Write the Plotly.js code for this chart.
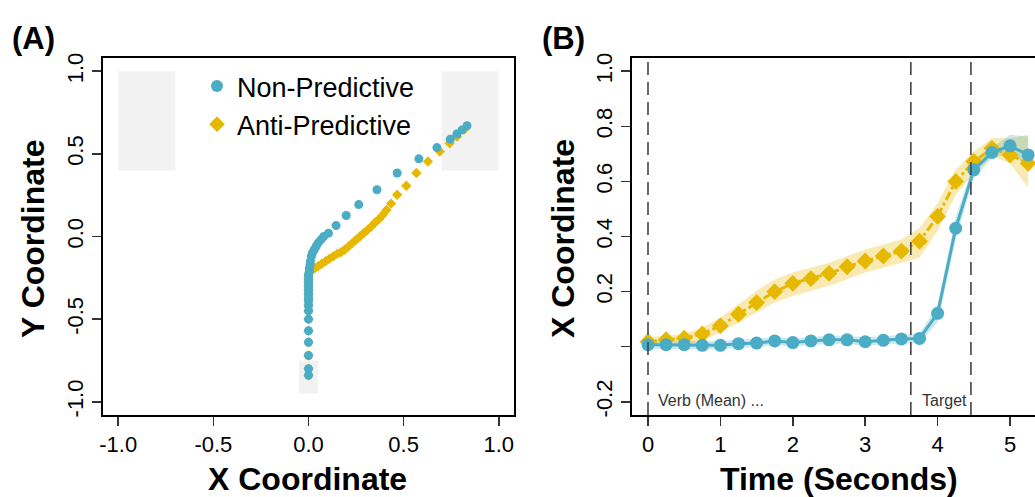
<!DOCTYPE html>
<html>
<head>
<meta charset="utf-8">
<script src="https://cdn.plot.ly/plotly-3.0.1.min.js"></script>
<style>html,body{margin:0;padding:0;background:#fff;}#chart{width:1035px;height:497px;}</style>
</head>
<body>
<div id="chart"></div>
<script>
// ---------- Panel A: mean trajectories (x, y) ----------
const nonPredX = [0.000,0.000,0.000,0.000,0.000,0.000,0.000,0.000,0.000,0.000,0.000,0.000,0.000,0.000,0.000,0.000,0.000,0.005,0.005,0.008,0.010,0.015,0.020,0.030,0.040,0.050,0.065,0.080,0.105,0.145,0.198,0.264,0.360,0.466,0.580,0.675,0.745,0.780,0.807,0.833];
const nonPredY = [-0.84,-0.80,-0.72,-0.64,-0.57,-0.50,-0.45,-0.42,-0.39,-0.37,-0.35,-0.33,-0.31,-0.29,-0.27,-0.25,-0.23,-0.21,-0.19,-0.17,-0.15,-0.12,-0.10,-0.08,-0.06,-0.04,-0.02,0.00,0.02,0.066,0.127,0.193,0.283,0.384,0.470,0.538,0.589,0.620,0.645,0.670];
const antiPredX = [0.000,0.000,0.000,0.000,0.000,0.000,0.000,0.000,0.000,0.000,0.000,0.000,0.000,0.000,0.000,0.005,0.010,0.020,0.035,0.050,0.070,0.090,0.110,0.130,0.150,0.170,0.190,0.210,0.230,0.250,0.270,0.290,0.310,0.330,0.350,0.370,0.390,0.410,0.434,0.466,0.514,0.567,0.628,0.690,0.742,0.780,0.820];
const antiPredY = [-0.84,-0.80,-0.72,-0.64,-0.57,-0.50,-0.45,-0.41,-0.38,-0.35,-0.32,-0.30,-0.28,-0.26,-0.24,-0.22,-0.21,-0.20,-0.19,-0.18,-0.165,-0.15,-0.135,-0.12,-0.105,-0.095,-0.08,-0.06,-0.04,-0.02,0.00,0.02,0.04,0.06,0.085,0.105,0.13,0.16,0.199,0.253,0.307,0.384,0.454,0.514,0.564,0.604,0.649];
const axisTicksA = [-1, -0.5, 0, 0.5, 1];
const axisTickTextA = ['-1.0', '-0.5', '0.0', '0.5', '1.0'];
// response boxes [x0, x1, y0, y1]
const boxX0 = [-1.0, 0.7, -0.05];
const boxX1 = [-0.7, 1.0, 0.05];
const boxY0 = [0.4, 0.4, -0.95];
const boxY1 = [1.0, 1.0, -0.75];

// ---------- Panel B: X coordinate over time ----------
const timeSec = [0,0.25,0.5,0.75,1,1.25,1.5,1.75,2,2.25,2.5,2.75,3,3.25,3.5,3.75,4,4.25,4.5,4.75,5,5.25];
const nonPredMean = [0.007,0.007,0.007,0.005,0.005,0.011,0.013,0.021,0.015,0.021,0.025,0.025,0.018,0.023,0.028,0.030,0.121,0.430,0.642,0.705,0.729,0.696];
const nonPredUpper = [0.022,0.022,0.022,0.020,0.020,0.026,0.028,0.036,0.030,0.036,0.040,0.040,0.034,0.038,0.044,0.048,0.150,0.470,0.666,0.722,0.769,0.763];
const nonPredLower = [-0.008,-0.008,-0.008,-0.010,-0.010,-0.004,-0.002,0.006,0.000,0.006,0.010,0.010,0.003,0.008,0.012,0.012,0.088,0.390,0.612,0.684,0.703,0.654];
const antiPredMean = [0.018,0.025,0.031,0.046,0.076,0.118,0.160,0.200,0.230,0.247,0.266,0.290,0.311,0.329,0.347,0.383,0.473,0.600,0.672,0.720,0.696,0.666];
const antiPredUpper = [0.034,0.040,0.046,0.070,0.106,0.154,0.203,0.245,0.269,0.287,0.305,0.329,0.353,0.371,0.389,0.431,0.522,0.642,0.709,0.757,0.757,0.769];
const antiPredLower = [0.004,0.004,0.004,0.022,0.052,0.088,0.124,0.160,0.184,0.203,0.221,0.245,0.269,0.287,0.305,0.323,0.419,0.552,0.630,0.690,0.666,0.576];
const eventTimes = [0, 3.63, 4.46];
const eventLabels = ['Verb (Mean) ...', 'Target'];
const eventLabelX = [0.11, 3.75];
const axisTicksB = [-0.2, 0, 0.2, 0.4, 0.6, 0.8, 1.0];
const axisTickTextB = ['-0.2', '', '0.2', '0.4', '0.6', '0.8', '1.0'];
const timeTicks = [0, 1, 2, 3, 4, 5];

const BLUE = '#4AACC5';
const GOLD = '#E7B800';
const FONT = 'Liberation Sans, Arial, sans-serif';

const traces = [
  // Panel A
  {x: antiPredX, y: antiPredY, xaxis: 'x', yaxis: 'y', type: 'scatter', mode: 'markers',
   name: 'Anti-Predictive', marker: {symbol: 'diamond', size: 8, color: GOLD}},
  {x: nonPredX, y: nonPredY, xaxis: 'x', yaxis: 'y', type: 'scatter', mode: 'markers',
   name: 'Non-Predictive', marker: {symbol: 'circle', size: 9, color: BLUE}},
  // Panel B bands
  {x: timeSec, y: antiPredLower, xaxis: 'x2', yaxis: 'y2', type: 'scatter', mode: 'lines',
   line: {width: 0}, showlegend: false, hoverinfo: 'skip'},
  {x: timeSec, y: antiPredUpper, xaxis: 'x2', yaxis: 'y2', type: 'scatter', mode: 'lines',
   line: {width: 0}, fill: 'tonexty', fillcolor: 'rgba(231,184,0,0.30)', showlegend: false, hoverinfo: 'skip'},
  {x: timeSec, y: nonPredLower, xaxis: 'x2', yaxis: 'y2', type: 'scatter', mode: 'lines',
   line: {width: 0}, showlegend: false, hoverinfo: 'skip'},
  {x: timeSec, y: nonPredUpper, xaxis: 'x2', yaxis: 'y2', type: 'scatter', mode: 'lines',
   line: {width: 0}, fill: 'tonexty', fillcolor: 'rgba(74,172,197,0.28)', showlegend: false, hoverinfo: 'skip'},
  // Panel B means
  {x: timeSec, y: antiPredMean, xaxis: 'x2', yaxis: 'y2', type: 'scatter', mode: 'lines+markers',
   line: {color: GOLD, width: 3, dash: 'dashdot'}, marker: {symbol: 'diamond', size: 13, color: GOLD},
   showlegend: false, name: 'Anti-Predictive'},
  {x: timeSec, y: nonPredMean, xaxis: 'x2', yaxis: 'y2', type: 'scatter', mode: 'lines+markers',
   line: {color: BLUE, width: 3}, marker: {symbol: 'circle', size: 13, color: BLUE},
   showlegend: false, name: 'Non-Predictive'}
];

const shapes = [];
for (let i = 0; i < boxX0.length; i++) {
  shapes.push({type: 'rect', xref: 'x', yref: 'y', x0: boxX0[i], x1: boxX1[i], y0: boxY0[i], y1: boxY1[i],
    fillcolor: '#F2F2F2', line: {width: 0}, layer: 'below'});
}
eventTimes.forEach(t => {
  shapes.push({type: 'line', xref: 'x2', yref: 'y2 domain', x0: t, x1: t, y0: 0, y1: 1,
    line: {color: '#444444', width: 1.6, dash: '13px,7px'}, layer: 'above'});
});

function paperLabel(text, px, py, size, angle) {
  return {text: text, xref: 'paper', yref: 'paper', x: px / 1035, y: 1 - py / 497,
    xanchor: 'center', yanchor: 'middle', textangle: angle || 0, showarrow: false,
    font: {family: FONT, size: size, color: '#000'}};
}

const annotations = [
  paperLabel('<b>(A)</b>', 33, 38, 31),
  paperLabel('<b>(B)</b>', 563, 38, 31),
  paperLabel('<b>Y Coordinate</b>', 33, 239, 32, -90),
  paperLabel('<b>X Coordinate</b>', 307, 479, 32),
  paperLabel('<b>X Coordinate</b>', 563, 239, 32, -90),
  paperLabel('<b>Time (Seconds)</b>', 839, 479, 32)
];
eventLabels.forEach((lab, i) => {
  annotations.push({text: lab, xref: 'x2', yref: 'y2', x: eventLabelX[i], y: -0.196, xanchor: 'left', yanchor: 'middle',
    showarrow: false, font: {family: FONT, size: 16, color: '#333333'}});
});

const axisCommon = {
  showline: true, linecolor: '#000', linewidth: 2, mirror: true,
  ticks: 'outside', ticklen: 9, tickwidth: 1.5, tickcolor: '#333',
  showgrid: false, zeroline: false,
  tickfont: {family: FONT, size: 22, color: '#000'}
};

const layout = {
  width: 1035, height: 497,
  margin: {l: 0, r: 0, t: 0, b: 0},
  paper_bgcolor: '#fff', plot_bgcolor: '#fff',
  font: {family: FONT, color: '#000'},
  showlegend: true,
  legend: {x: 197/1035, y: 1 - 62/497, xanchor: 'left', yanchor: 'top', bgcolor: 'rgba(0,0,0,0)',
    font: {family: FONT, size: 27, color: '#000'}, traceorder: 'reversed', itemsizing: 'constant'},
  xaxis: Object.assign({}, axisCommon, {domain: [103/1035, 514/1035], range: [-1.08, 1.08],
    tickvals: axisTicksA, ticktext: axisTickTextA, anchor: 'y'}),
  yaxis: Object.assign({}, axisCommon, {domain: [82/497, 439/497], range: [-1.08, 1.08],
    tickvals: axisTicksA, ticktext: axisTickTextA, tickangle: -90, anchor: 'x'}),
  xaxis2: Object.assign({}, axisCommon, {domain: [632/1035, 1], range: [-0.221, 5.345],
    tickvals: timeTicks, anchor: 'y2'}),
  yaxis2: Object.assign({}, axisCommon, {domain: [82/497, 439/497], range: [-0.248, 1.048], mirror: false,
    tickvals: axisTicksB, ticktext: axisTickTextB, tickangle: -90, anchor: 'x2'}),
  shapes: shapes,
  annotations: annotations
};

Plotly.newPlot('chart', traces, layout, {staticPlot: true, displayModeBar: false});
</script>
</body>
</html>
